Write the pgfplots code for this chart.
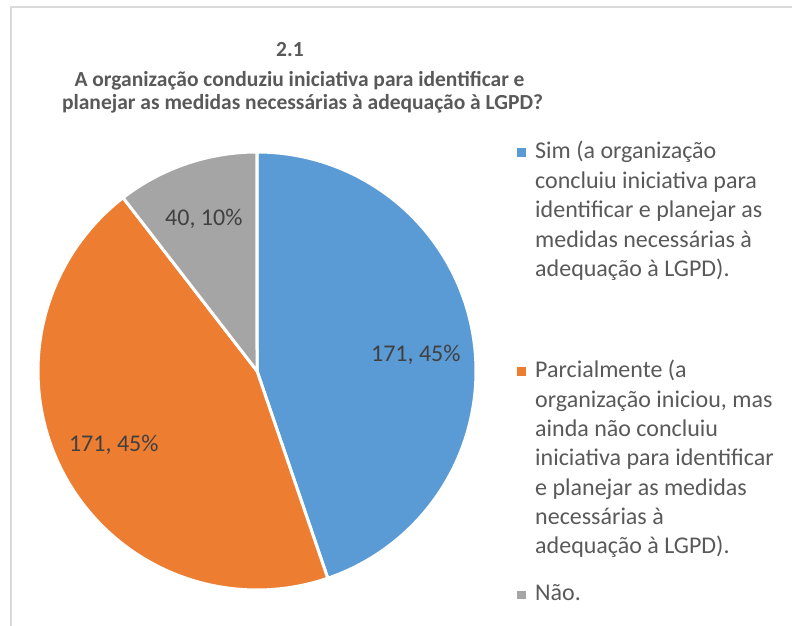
\documentclass[border=0pt]{standalone}
\usepackage{fontspec}
\setmainfont{Carlito}
\usepackage{pgfplots}
\usepackage{pgfplotstable}
\pgfplotsset{compat=1.18}

\definecolor{sblue}{HTML}{5B9BD5}
\definecolor{sorange}{HTML}{ED7D31}
\definecolor{sgray}{HTML}{A5A5A5}
\definecolor{txt}{HTML}{595959}
\definecolor{lbl}{HTML}{404040}
\definecolor{frame}{HTML}{D9D9D9}

\pgfplotstableread{
label value
Sim 171
Parcialmente 171
Nao 40
}\piedata

\begin{document}
\begin{tikzpicture}[x=1pt,y=1pt]
% slice angles from the table, clockwise from the top
\pgfplotstablegetelem{0}{value}\of\piedata \let\vA\pgfplotsretval
\pgfplotstablegetelem{1}{value}\of\piedata \let\vB\pgfplotsretval
\pgfplotstablegetelem{2}{value}\of\piedata \let\vC\pgfplotsretval
\pgfmathsetmacro\tot{\vA+\vB+\vC}
\pgfmathsetmacro\aA{90}
\pgfmathsetmacro\aB{\aA-360*(\vA/\tot)}
\pgfmathsetmacro\aC{\aB-360*(\vB/\tot)}
\pgfmathsetmacro\aD{\aC-360*(\vC/\tot)}

\useasboundingbox (0,0) rectangle (792,626);
\draw[frame, line width=1.5pt] (11,0) -- (11,619) -- (792,619);

% title
\begin{scope}[font=\fontsize{21.5}{24}\selectfont\bfseries, text=txt]
\node[anchor=base] at (290,569) {2.1};
\node[anchor=base] at (299.5,539) {A organização conduziu iniciativa para identificar e};
\node[anchor=base] at (302.5,516) {planejar as medidas necessárias à adequação à LGPD?};
\end{scope}

\begin{axis}[
  at={(257pt,255pt)}, anchor=center,
  width=438pt, height=438pt, scale only axis,
  hide axis, clip=false,
  xmin=-1, xmax=1, ymin=-1, ymax=1,
]
\addplot[fill=sblue, draw=white, line width=3pt, domain=\aB:\aA, samples=120, variable=\t]
  ({cos(\t)},{sin(\t)}) -- (axis cs:0,0) -- cycle;
\addplot[fill=sorange, draw=white, line width=3pt, domain=\aC:\aB, samples=120, variable=\t]
  ({cos(\t)},{sin(\t)}) -- (axis cs:0,0) -- cycle;
\addplot[fill=sgray, draw=white, line width=3pt, domain=\aD:\aC, samples=40, variable=\t]
  ({cos(\t)},{sin(\t)}) -- (axis cs:0,0) -- cycle;
\node[font=\fontsize{24}{28}\selectfont, text=lbl] at (axis cs:0.725,0.073) {171, 45\%};
\node[font=\fontsize{24}{28}\selectfont, text=lbl] at (axis cs:-0.654,-0.337) {171, 45\%};
\node[font=\fontsize{24}{28}\selectfont, text=lbl] at (axis cs:-0.243,0.695) {40, 10\%};
\end{axis}

% legend
\begin{scope}[font=\fontsize{24}{29.5}\selectfont, text=txt]
\fill[sblue] (517,469) rectangle (526,478);
\foreach \s [count=\i from 0] in {Sim (a organização, concluiu iniciativa para,
  identificar e planejar as, medidas necessárias à, adequação à LGPD).}
  \node[anchor=base west, inner sep=0pt] at (535,467-29.5*\i) {\s};
\fill[sorange] (517,250) rectangle (526,259);
\foreach \s [count=\i from 0] in {Parcialmente (a, {organização iniciou, mas},
  ainda não concluiu, iniciativa para identificar, e planejar as medidas,
  necessárias à, adequação à LGPD).}
  \node[anchor=base west, inner sep=0pt] at (535,248-29.3*\i) {\s};
\fill[sgray] (517,27) rectangle (526,35);
\node[anchor=base west, inner sep=0pt] at (535,25) {Não.};
\end{scope}
\end{tikzpicture}
\end{document}
